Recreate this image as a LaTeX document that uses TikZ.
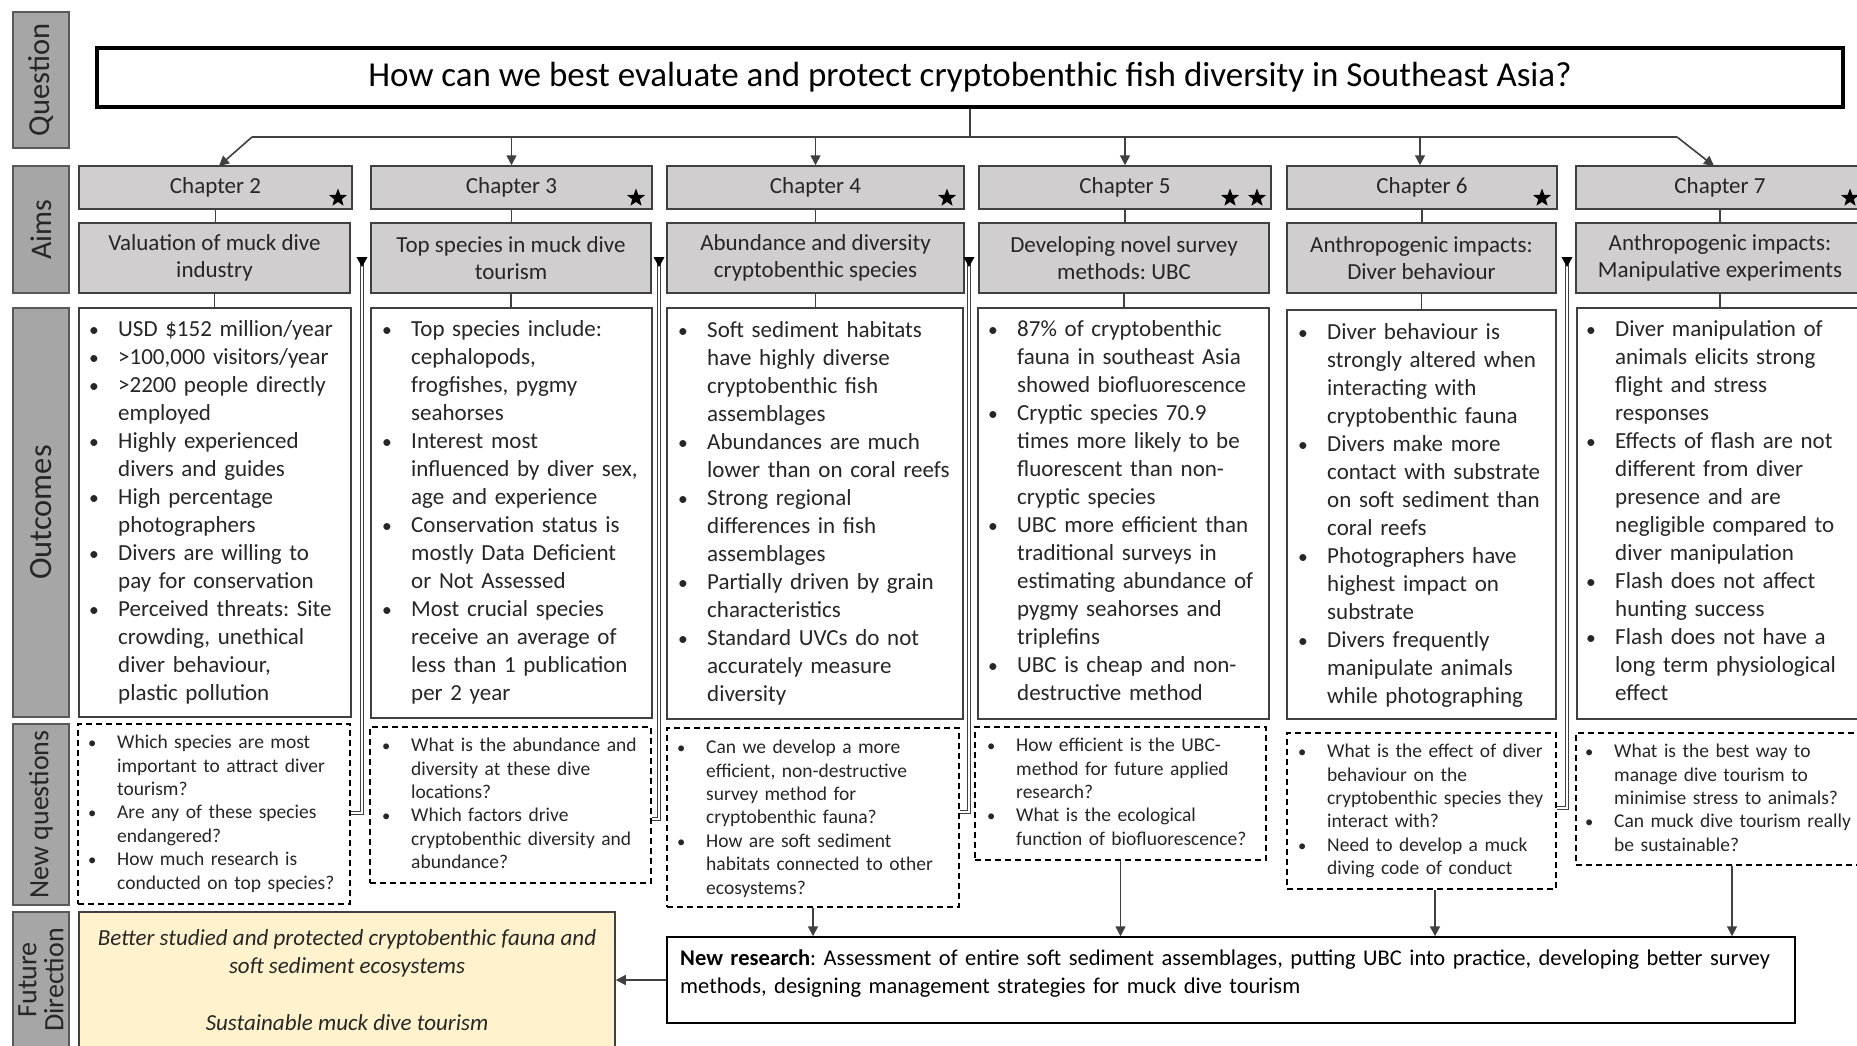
\documentclass[tikz,border=0pt]{standalone}
\usepackage{fontspec}
\setmainfont{Carlito}
\usetikzlibrary{arrows.meta,shapes.geometric,calc}
\definecolor{labf}{HTML}{A6A6A6}
\definecolor{labd}{HTML}{595959}
\definecolor{chf}{HTML}{D0CECE}
\definecolor{chd}{HTML}{404040}
\definecolor{lnc}{HTML}{404040}
\definecolor{txt}{HTML}{262626}
\definecolor{yelf}{HTML}{FFF2CC}
\setlength\parskip{0pt}
\setlength\parindent{0pt}
\frenchspacing
\newcommand\mybox[7]{%
 \pgfmathsetmacro\mcx{(#3+#5)/2}%
 \pgfmathsetmacro\mcy{(#4+#6)/2}%
 \pgfmathsetmacro\mww{#5-#3}%
 \pgfmathsetmacro\mhh{#6-#4}%
 \node[#2, minimum width=\mww pt, minimum height=\mhh pt] (#1) at (\mcx,\mcy) {#7};}
\newcommand\bul[1]{\par\hangindent=29pt\hangafter=1\noindent\strut\makebox[29pt][l]{\scalebox{0.85}{\textbullet}}#1\par}
\tikzset{
 lab/.style={draw=labd, fill=labf, line width=1.5pt, inner sep=0pt},
 labtxt/.style={rotate=90, text=txt, align=center, inner sep=0pt},
 chap/.style={draw=chd, fill=chf, line width=1.5pt, inner sep=0pt, font=\fontsize{23}{27}\selectfont, text=txt, align=center},
 obox/.style={draw=chd, fill=white, line width=1.5pt, inner sep=0pt},
 nqbox/.style={draw=black, fill=white, dash pattern=on 6pt off 4pt, line width=1.3pt, inner sep=0pt},
 ln/.style={draw=lnc, line width=1.6pt},
 arr/.style={ln, -{Triangle[length=10pt,width=10pt]}},
 fbl/.style={draw=lnc, line width=0.9pt, double=white, double distance=1.4pt},
 otxt/.style={anchor=north west, inner sep=0pt, text width=330pt, align=left, font=\fontsize{23}{28}\selectfont, text=txt},
 qtxt/.style={anchor=north west, inner sep=0pt, text width=330pt, align=left, font=\fontsize{19.5}{23.4}\selectfont, text=txt},
 starn/.style={star, star points=5, star point ratio=2.4, fill=black, draw=none, inner sep=0pt, minimum size=19pt},
}
\begin{document}
\begin{tikzpicture}[x=1pt,y=-1pt]
\useasboundingbox (0,0) rectangle (1857,1045);
\fill[white] (0,0) rectangle (1857,1045);
\clip (0,0) rectangle (1857,1045);

% row labels
\mybox{lq}{lab}{13}{12}{69}{148}{}
\mybox{la}{lab}{13}{166}{69}{293}{}
\mybox{lo}{lab}{13}{308}{69}{717}{}
\mybox{ln}{lab}{13}{724}{69}{905}{}
\mybox{lf}{lab}{13}{912}{69}{1080}{}
\node[labtxt, font=\fontsize{30.5}{30}\selectfont] (lqt) at (lq) {Question};
\node[labtxt, font=\fontsize{30}{30}\selectfont] (lat) at (la) {Aims};
\node[labtxt, font=\fontsize{32.5}{30}\selectfont] (lot) at (lo) {Outcomes};
\node[labtxt, font=\fontsize{28}{27}\selectfont] (lnt) at (ln) {New questions};
\node[labtxt, font=\fontsize{28}{27}\selectfont] (lft) at (41,980) {Future\\Direction};

% question
\mybox{q}{draw=black, line width=4pt, fill=white, inner sep=0pt, font=\fontsize{35}{38}\selectfont, text=black}{97}{48}{1843}{107}{How can we best evaluate and protect cryptobenthic fish diversity in Southeast Asia?}

% chapter boxes
\mybox{ch2}{chap}{79}{166}{352}{209}{Chapter 2}
\mybox{ch3}{chap}{371}{166}{652}{209}{Chapter 3}
\mybox{ch4}{chap}{667}{166}{964}{209}{Chapter 4}
\mybox{ch5}{chap}{979}{166}{1271}{209}{Chapter 5}
\mybox{ch6}{chap}{1287}{166}{1557}{209}{Chapter 6}
\mybox{ch7}{chap}{1576}{166}{1864}{209}{Chapter 7}
\node[starn] (s2) at (338,198) {};
\node[starn] (s3) at (636,198) {};
\node[starn] (s4) at (947,198) {};
\node[starn] (s5a) at (1230,198) {};
\node[starn] (s5b) at (1257,198) {};
\node[starn] (s6) at (1542,198) {};
\node[starn] (s7) at (1850,198) {};

% aims boxes
\mybox{a2}{chap}{79}{223}{350}{293}{Valuation of muck dive\\industry}
\mybox{a3}{chap}{371}{223}{651}{293}{Top species in muck dive\\tourism}
\mybox{a4}{chap}{667}{223}{964}{293}{Abundance and diversity\\cryptobenthic species}
\mybox{a5}{chap}{979}{223}{1269}{293}{Developing novel survey\\methods: UBC}
\mybox{a6}{chap}{1287}{223}{1556}{293}{Anthropogenic impacts:\\Diver behaviour}
\mybox{a7}{chap}{1576}{223}{1864}{293}{Anthropogenic impacts:\\Manipulative experiments}

% outcome boxes
\mybox{o2}{obox}{79}{308}{351}{717}{}
\mybox{o3}{obox}{371}{308}{652}{718}{}
\mybox{o4}{obox}{667}{308}{963}{719}{}
\mybox{o5}{obox}{978}{308}{1269}{719}{}
\mybox{o6}{obox}{1287}{310}{1556}{719}{}
\mybox{o7}{obox}{1577}{308}{1864}{719}{}

% new question boxes
\mybox{nq2}{nqbox}{78}{724}{350}{904}{}
\mybox{nq3}{nqbox}{370}{727}{651}{883}{}
\mybox{nq4}{nqbox}{667}{728}{959}{907}{}
\mybox{nq5}{nqbox}{975}{727}{1266}{860}{}
\mybox{nq6}{nqbox}{1287}{733}{1556}{889}{}
\mybox{nq7}{nqbox}{1576}{733}{1864}{865}{}

% future direction
\mybox{yb}{draw=chd, fill=yelf, line width=1.5pt, inner sep=0pt}{79}{912}{615}{1080}{}
\node[anchor=north, inner sep=0pt, align=center, font=\fontsize{23}{28.5}\selectfont\itshape, text=txt] (ybt) at (347,925)
 {\strut Better studied and protected cryptobenthic fauna and\\soft sediment ecosystems\\[28pt]Sustainable muck dive tourism};
\mybox{nr}{draw=black, fill=white, line width=1.5pt, inner sep=0pt}{667}{937}{1795}{1023}{}
\node[anchor=north west, inner sep=0pt, text width=1120pt, align=left, font=\fontsize{22.5}{28}\selectfont, text=black] (nrt) at (680,946)
 {\strut\textbf{New research}: Assessment of entire soft sediment assemblages, putting UBC into practice, developing better survey\newline methods, designing management strategies for muck dive tourism};

% connectors from question
\coordinate (hl) at (252,137);
\coordinate (hr) at (1677,137);
\draw[ln] (q.south) -- (q.south |- hl);
\draw[ln] (hl) -- (hr);
\draw[arr] (hl) -- (219,166);
\draw[arr] (ch3.north |- hl) -- (ch3.north);
\draw[arr] (ch4.north |- hl) -- (ch4.north);
\draw[arr] (ch5.north |- hl) -- (ch5.north);
\draw[arr] (1420,137) -- (ch6.north -| 1420,0);
\draw[arr] (hr) -- (1714,166);

% chapter -> aims -> outcomes
\foreach \c in {2,...,7}{
 \draw[ln] (ch\c.south) -- (ch\c.south |- a\c.north);
 \draw[ln] (a\c.south) -- (a\c.south |- o\c.north);
}

% feedback connectors
\coordinate (fb2) at (362,257);
\coordinate (fb3) at (659,257);
\coordinate (fb4) at (969,257);
\coordinate (fb6) at (1567,257);
\draw[fbl] (nq2.east |- 0,813) -| (fb2);
\draw[fbl] (nq3.east |- 0,819) -| (fb3);
\draw[fbl] (nq4.east |- 0,812) -| (fb4);
\draw[fbl] (nq6.east |- 0,808) -| (fb6);
\foreach \f in {fb2,fb3,fb4,fb6}{
 \fill[black] (\f) ++(-5.5,0) -- ++(11,0) -- ++(-5.5,10) -- cycle;
}

% to new research
\coordinate (x6) at (1435,0);
\coordinate (x7) at (1732,0);
\draw[arr] (nq4.south) -- (nq4.south |- nr.north);
\draw[arr] (nq5.south) -- (nq5.south |- nr.north);
\draw[arr] (nq6.south -| x6) -- (nr.north -| x6);
\draw[arr] (nq7.south -| x7) -- (nr.north -| x7);
\draw[arr] (nr.west) -- (nr.west -| yb.east);

% outcome texts
\node[otxt] (t2) at (89,308) {\bul{USD \$152 million/year}\bul{>100,000 visitors/year}\bul{>2200 people directly\newline employed}\bul{Highly experienced\newline divers and guides}\bul{High percentage\newline photographers}\bul{Divers are willing to\newline pay for conservation}\bul{Perceived threats: Site\newline crowding, unethical\newline diver behaviour,\newline plastic pollution}};
\node[otxt] (t3) at (382,308) {\bul{Top species include:\newline cephalopods,\newline frogfishes, pygmy\newline seahorses}\bul{Interest most\newline influenced by diver sex,\newline age and experience}\bul{Conservation status is\newline mostly Data Deficient\newline or Not Assessed}\bul{Most crucial species\newline receive an average of\newline less than 1 publication\newline per 2 year}};
\node[otxt] (t4) at (678,309) {\bul{Soft sediment habitats\newline have highly diverse\newline cryptobenthic fish\newline assemblages}\bul{Abundances are much\newline lower than on coral reefs}\bul{Strong regional\newline differences in fish\newline assemblages}\bul{Partially driven by grain\newline characteristics}\bul{Standard UVCs do not\newline accurately measure\newline diversity}};
\node[otxt] (t5) at (988,308) {\bul{87\% of cryptobenthic\newline fauna in southeast Asia\newline showed biofluorescence}\bul{Cryptic species 70.9\newline times more likely to be\newline fluorescent than non-\newline cryptic species}\bul{UBC more efficient than\newline traditional surveys in\newline estimating abundance of\newline pygmy seahorses and\newline triplefins}\bul{UBC is cheap and non-\newline destructive method}};
\node[otxt] (t6) at (1298,311) {\bul{Diver behaviour is\newline strongly altered when\newline interacting with\newline cryptobenthic fauna}\bul{Divers make more\newline contact with substrate\newline on soft sediment than\newline coral reefs}\bul{Photographers have\newline highest impact on\newline substrate}\bul{Divers frequently\newline manipulate animals\newline while photographing}};
\node[otxt] (t7) at (1586,308) {\bul{Diver manipulation of\newline animals elicits strong\newline flight and stress\newline responses}\bul{Effects of flash are not\newline different from diver\newline presence and are\newline negligible compared to\newline diver manipulation}\bul{Flash does not affect\newline hunting success}\bul{Flash does not have a\newline long term physiological\newline effect}};

% new question texts
\node[qtxt] (q2) at (88,725) {\bul{Which species are most\newline important to attract diver\newline tourism?}\bul{Are any of these species\newline endangered?}\bul{How much research is\newline conducted on top species?}};
\node[qtxt] (q3) at (382,728) {\bul{What is the abundance and\newline diversity at these dive\newline locations?}\bul{Which factors drive\newline cryptobenthic diversity and\newline abundance?}};
\node[qtxt] (q4) at (677,730) {\bul{Can we develop a more\newline efficient, non-destructive\newline survey method for\newline cryptobenthic fauna?}\bul{How are soft sediment\newline habitats connected to other\newline ecosystems?}};
\node[qtxt] (q5) at (987,728) {\bul{How efficient is the UBC-\newline method for future applied\newline research?}\bul{What is the ecological\newline function of biofluorescence?}};
\node[qtxt] (q6) at (1298,734) {\bul{What is the effect of diver\newline behaviour on the\newline cryptobenthic species they\newline interact with?}\bul{Need to develop a muck\newline diving code of conduct}};
\node[qtxt] (q7) at (1585,734) {\bul{What is the best way to\newline manage dive tourism to\newline minimise stress to animals?}\bul{Can muck dive tourism really\newline be sustainable?}};
\end{tikzpicture}
\end{document}
